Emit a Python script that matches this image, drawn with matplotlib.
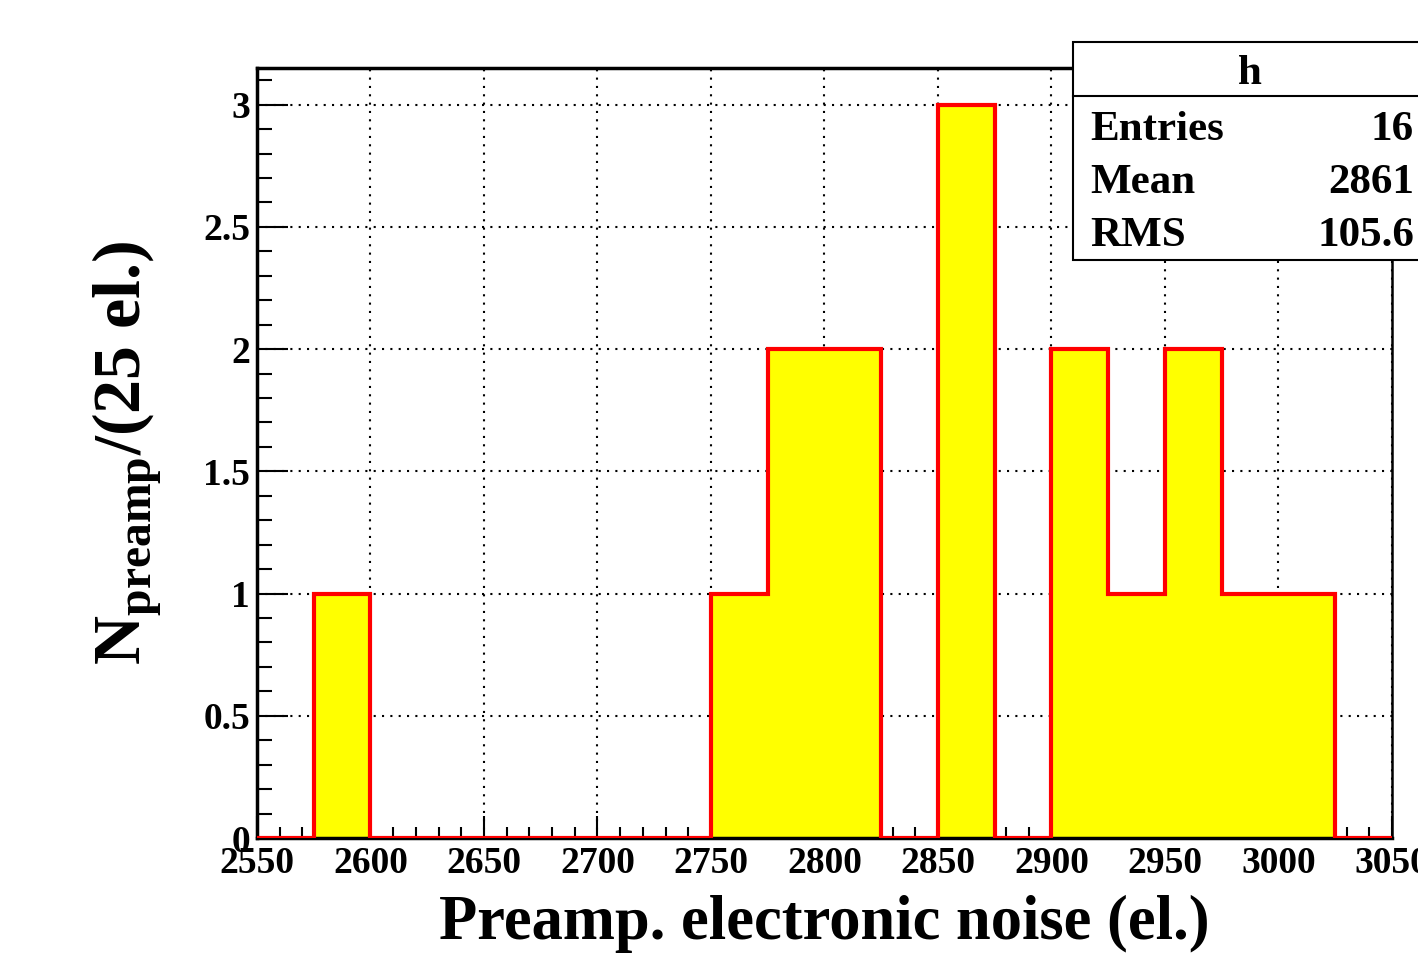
import numpy as np
import matplotlib.pyplot as plt
from matplotlib.patches import Rectangle
from matplotlib.lines import Line2D
from matplotlib.ticker import MultipleLocator

plt.rcParams['font.family'] = ['Liberation Serif', 'DejaVu Serif']
plt.rcParams['font.weight'] = 'bold'
plt.rcParams['axes.labelweight'] = 'bold'
plt.rcParams['mathtext.fontset'] = 'custom'
plt.rcParams['mathtext.rm'] = 'Liberation Serif:bold'
plt.rcParams['mathtext.bf'] = 'Liberation Serif:bold'

# histogram content, 25 el. bins from 2550 to 3050
bin_edges = np.arange(2550, 3051, 25)
counts = [0, 1, 0, 0, 0, 0, 0, 0, 1, 2, 2, 0, 3, 0, 2, 1, 2, 1, 1, 0]

stats_title = "h"
stats_names = ["Entries", "Mean", "RMS"]
stats_values = ["16", "2861", "105.6"]

fig = plt.figure(figsize=(14.18, 9.55), dpi=100)
ax = fig.add_axes([257 / 1418, 1 - 838 / 955, (1392 - 257) / 1418, (838 - 68) / 955])

ax.stairs(counts, bin_edges, fill=True, color='#ffff00', zorder=2)
ax.stairs(counts, bin_edges, fill=False, color='#ff0000', lw=3, zorder=3)

ax.set_xlim(2550, 3050)
ax.set_ylim(0, 3.15)
ax.xaxis.set_major_locator(MultipleLocator(50))
ax.xaxis.set_minor_locator(MultipleLocator(10))
ax.yaxis.set_major_locator(MultipleLocator(0.5))
ax.yaxis.set_minor_locator(MultipleLocator(0.1))
ax.tick_params(which='both', direction='in', top=False, right=False, labelsize=27)
ax.tick_params(axis='x', which='major', length=16, width=1.5, pad=6)
ax.tick_params(axis='x', which='minor', length=8, width=1.5)
ax.tick_params(axis='y', which='major', length=22, width=1.5, pad=5)
ax.tick_params(axis='y', which='minor', length=11, width=1.5)
ax.set_yticks([0, 0.5, 1, 1.5, 2, 2.5, 3])
ax.set_yticklabels(['0', '0.5', '1', '1.5', '2', '2.5', '3'])
ax.grid(True, which='major', color='black', linestyle=(0, (1, 3)), lw=1.5, zorder=1)
ax.set_axisbelow(True)
for side in ['left', 'bottom', 'top']:
    ax.spines[side].set_linewidth(2.5)
ax.spines['right'].set_linewidth(1.8)

ax.set_xlabel('Preamp. electronic noise (el.)', fontsize=45, fontweight='bold', labelpad=10)
ax.set_ylabel(r'N$_{\mathbf{preamp}}$/(25 el.)', fontsize=49, fontweight='bold', labelpad=28)

# stats box
x0, y0 = 1073 / 1418, 1 - 260 / 955
y1 = 1 - 42 / 955
fig.add_artist(Rectangle((x0, y0), 0.3, y1 - y0, transform=fig.transFigure,
                         facecolor='white', edgecolor='black', lw=1.5, zorder=5))
fig.add_artist(Line2D([x0, 1.0], [1 - 96 / 955] * 2, transform=fig.transFigure,
                      color='black', lw=1.5, zorder=6))
fig.text(1250 / 1418, 1 - 74 / 955, stats_title, ha='center', va='center',
         fontsize=31, zorder=7)
for i, (name, val) in enumerate(zip(stats_names, stats_values)):
    yy = 1 - (130 + 53 * i) / 955
    fig.text(1090 / 1418, yy, name, ha='left', va='center', fontsize=31, zorder=7)
    fig.text(1414 / 1418, yy, val, ha='right', va='center', fontsize=31, zorder=7)

fig.savefig('out.png', dpi=100)
